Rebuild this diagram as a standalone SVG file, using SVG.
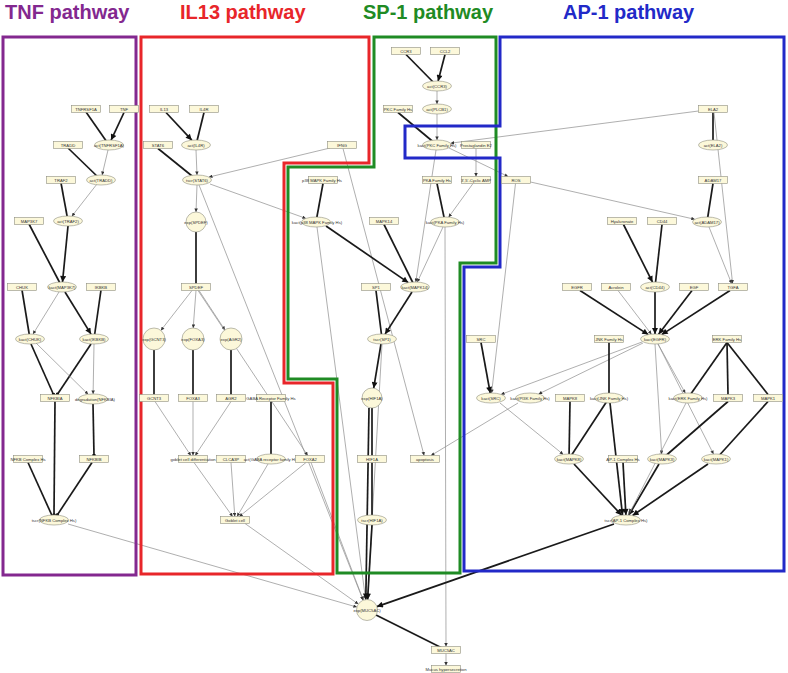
<svg xmlns="http://www.w3.org/2000/svg" width="788" height="673" viewBox="0 0 788 673">
<style>
.r{fill:#FCF8DA;stroke:#8f8f80;stroke-width:0.6}
.e{fill:#FCF8DA;stroke:#8f8f80;stroke-width:0.6}
.t{font-family:"Liberation Sans",Arial,sans-serif;font-size:4.2px;fill:#333;text-anchor:middle}
.k{stroke:#1a1a1a;stroke-width:1.7;fill:none}
.n{stroke:#8c8c8c;stroke-width:0.7;fill:none}
.ka{marker-end:url(#ak)}
.na{marker-end:url(#an)}
.kd{marker-end:url(#dot)}
.ttl{font-family:"Liberation Sans",Arial,sans-serif;font-size:20px;font-weight:bold}
.box{fill:none;stroke-width:3}
</style>
<defs>
<marker id="ak" viewBox="0 0 10 10" refX="10" refY="5" markerWidth="7" markerHeight="6" markerUnits="userSpaceOnUse" orient="auto"><path d="M0,0L10,5L0,10z" fill="#111"/></marker>
<marker id="an" viewBox="0 0 10 10" refX="10" refY="5" markerWidth="4" markerHeight="3.5" markerUnits="userSpaceOnUse" orient="auto"><path d="M0,0L10,5L0,10z" fill="#333"/></marker>
<marker id="dot" viewBox="0 0 10 10" refX="5" refY="5" markerWidth="3.6" markerHeight="3.6" markerUnits="userSpaceOnUse" orient="auto"><circle cx="5" cy="5" r="5" fill="#111"/></marker>
</defs>
<rect width="788" height="673" fill="#fff"/>
<g id="titles">
<text class="ttl" x="5" y="19" fill="#83288F">TNF pathway</text>
<text class="ttl" x="180" y="19" fill="#E8262A">IL13 pathway</text>
<text class="ttl" x="363" y="19" fill="#1F8B24">SP-1 pathway</text>
<text class="ttl" x="563" y="19" fill="#2229C8">AP-1 pathway</text>
</g>
<g id="connectors">
<!-- TNF -->
<line class="k" x1="86" y1="112" x2="109" y2="145"/>
<line class="k ka" x1="124" y1="112.5" x2="111.1" y2="140.1"/>
<line class="n na" x1="108" y1="150" x2="102.1" y2="175"/>
<line class="k" x1="68" y1="148" x2="101" y2="180"/>
<line class="n na" x1="97" y1="184" x2="71.9" y2="216.2"/>
<line class="k" x1="61" y1="183" x2="68" y2="221"/>
<line class="k ka" x1="68" y1="226" x2="62.5" y2="282"/>
<line class="k" x1="29" y1="224" x2="62" y2="287"/>
<line class="n na" x1="59" y1="292" x2="33" y2="334.1"/>
<line class="k ka" x1="65" y1="292" x2="91" y2="334.1"/>
<line class="k" x1="22" y1="290" x2="30" y2="339"/>
<line class="k" x1="101" y1="290" x2="94" y2="339"/>
<line class="k kd" x1="31" y1="344" x2="53.5" y2="394.5"/>
<line class="k kd" x1="91" y1="344" x2="57.3" y2="394.5"/>
<line class="n na" x1="36" y1="343" x2="88.1" y2="394.3"/>
<line class="n na" x1="94" y1="344" x2="93.1" y2="394"/>
<line class="k kd" x1="55" y1="401.5" x2="54" y2="515"/>
<line class="k kd" x1="93" y1="404" x2="94" y2="455.5"/>
<line class="k" x1="28" y1="462.5" x2="54" y2="520"/>
<line class="k kd" x1="92" y1="462.5" x2="57.2" y2="515.1"/>
<line class="n na" x1="68" y1="524" x2="356.9" y2="607.1"/>
<!-- IL13 -->
<line class="k ka" x1="166" y1="112.5" x2="191.8" y2="140.2"/>
<line class="k" x1="204" y1="112.5" x2="196" y2="145"/>
<line class="n na" x1="196" y1="150" x2="197" y2="175"/>
<line class="k" x1="158" y1="148.5" x2="197" y2="180"/>
<line class="n na" x1="330" y1="148" x2="208.9" y2="177.1"/>
<line class="n na" x1="343" y1="148.5" x2="424.1" y2="455.5"/>
<line class="n na" x1="197" y1="185" x2="196" y2="212"/>
<line class="n na" x1="210" y1="184" x2="305.9" y2="218.4"/>
<line class="n na" x1="199" y1="185" x2="363.1" y2="600.2"/>
<line class="k" x1="196" y1="232" x2="196" y2="283.5"/>
<line class="n na" x1="192" y1="290.5" x2="160.9" y2="330.4"/>
<line class="n na" x1="196" y1="290.5" x2="193.2" y2="328"/>
<line class="n na" x1="199" y1="290.5" x2="224.9" y2="329.9"/>
<line class="n na" x1="198" y1="290.5" x2="307.7" y2="455.5"/>
<line class="k" x1="154" y1="350" x2="154" y2="394.5"/>
<line class="k" x1="193" y1="350" x2="193" y2="394.5"/>
<line class="k" x1="231" y1="350" x2="231" y2="394.5"/>
<line class="n na" x1="155" y1="401.5" x2="190.8" y2="455.5"/>
<line class="n na" x1="193" y1="401.5" x2="193" y2="455.5"/>
<line class="n na" x1="231" y1="401.5" x2="195.2" y2="455.5"/>
<line class="k" x1="271" y1="401.5" x2="271" y2="454"/>
<line class="n na" x1="194" y1="462.5" x2="232.6" y2="516.5"/>
<line class="n na" x1="231" y1="462.5" x2="234.8" y2="516.5"/>
<line class="n na" x1="268" y1="464" x2="237.1" y2="516.5"/>
<line class="n na" x1="306" y1="462.5" x2="239.3" y2="516.5"/>
<line class="n na" x1="245" y1="523.5" x2="358.3" y2="604.1"/>
<line class="n na" x1="311" y1="462.5" x2="363.3" y2="600.2"/>
<!-- SP-1 -->
<line class="k" x1="406" y1="54.5" x2="437" y2="86"/>
<line class="k ka" x1="445" y1="54.5" x2="438.1" y2="81"/>
<line class="n na" x1="437" y1="91" x2="437" y2="104"/>
<line class="n na" x1="437" y1="114" x2="437" y2="140"/>
<line class="k" x1="398" y1="112.5" x2="437" y2="145"/>
<line class="n na" x1="698.5" y1="111" x2="450.6" y2="143.2"/>
<line class="n na" x1="476" y1="148.5" x2="476" y2="176.5"/>
<line class="n na" x1="473" y1="183.5" x2="448.6" y2="217.2"/>
<line class="k" x1="437" y1="183.5" x2="445" y2="222"/>
<line class="n na" x1="449" y1="148" x2="508.1" y2="176.5"/>
<line class="n na" x1="436" y1="150" x2="415.8" y2="282"/>
<line class="n na" x1="443" y1="227" x2="417.3" y2="282.1"/>
<line class="n na" x1="445" y1="227" x2="446" y2="646.5"/>
<line class="k" x1="323" y1="183.5" x2="316" y2="222"/>
<line class="k ka" x1="326" y1="226" x2="408.3" y2="282.6"/>
<line class="k" x1="384" y1="224.5" x2="415" y2="287"/>
<line class="n na" x1="317" y1="227" x2="365.6" y2="599.6"/>
<line class="k ka" x1="412" y1="292" x2="385.1" y2="334.1"/>
<line class="k" x1="376" y1="290.5" x2="382" y2="339"/>
<line class="k ka" x1="381" y1="344" x2="373.7" y2="388.1"/>
<line class="n na" x1="382" y1="344" x2="367.6" y2="599.5"/>
<line class="k" x1="372" y1="408" x2="372" y2="455.5"/>
<line class="k" x1="372" y1="462.5" x2="372" y2="515"/>
<line class="k ka" x1="372" y1="525" x2="367.6" y2="599.5"/>
<line class="k ka" x1="369" y1="408" x2="365.8" y2="599.6"/>
<line class="n na" x1="518" y1="403" x2="431" y2="455.5"/>
<line class="k" x1="376" y1="615" x2="446" y2="650"/>
<line class="n na" x1="446" y1="653.5" x2="446" y2="665.5"/>
<line class="n na" x1="515.5" y1="183.5" x2="491.6" y2="393"/>
<line class="n na" x1="530.5" y1="182" x2="694.8" y2="219.3"/>
<!-- AP-1 -->
<line class="k" x1="713" y1="112.5" x2="713" y2="140"/>
<line class="n na" x1="714" y1="112.5" x2="732.6" y2="283.5"/>
<line class="k" x1="713" y1="183.5" x2="707" y2="222"/>
<line class="n na" x1="709" y1="227" x2="731.6" y2="283.5"/>
<line class="k ka" x1="623.5" y1="224.5" x2="652.5" y2="282.1"/>
<line class="k" x1="662" y1="224.5" x2="655" y2="287"/>
<line class="k ka" x1="580" y1="290.5" x2="648.3" y2="334.6"/>
<line class="n na" x1="618" y1="290.5" x2="651.4" y2="334.2"/>
<line class="k ka" x1="655" y1="292" x2="655" y2="334"/>
<line class="k ka" x1="692" y1="290.5" x2="658.6" y2="334.2"/>
<line class="k ka" x1="730" y1="290.5" x2="661.7" y2="334.6"/>
<line class="k ka" x1="481" y1="342.5" x2="490.2" y2="393"/>
<line class="n na" x1="642" y1="342" x2="501" y2="394.4"/>
<line class="n na" x1="643" y1="343" x2="538.6" y2="394"/>
<line class="n na" x1="658" y1="344" x2="685.3" y2="393.1"/>
<line class="n na" x1="655" y1="344" x2="661.7" y2="454"/>
<line class="n na" x1="658" y1="344" x2="713.5" y2="454.1"/>
<line class="k" x1="609" y1="342.5" x2="609" y2="393"/>
<line class="k" x1="727" y1="342.5" x2="688" y2="398"/>
<line class="k" x1="727" y1="342.5" x2="728" y2="394.5"/>
<line class="k" x1="727" y1="342.5" x2="768" y2="394.5"/>
<line class="k" x1="609" y1="398" x2="569" y2="459"/>
<line class="k" x1="570" y1="401.5" x2="569" y2="459"/>
<line class="n na" x1="500" y1="403" x2="563.2" y2="454.4"/>
<line class="k ka" x1="610" y1="403" x2="622.5" y2="515"/>
<line class="k ka" x1="623" y1="462.5" x2="625.9" y2="515"/>
<line class="k ka" x1="574" y1="464" x2="621.6" y2="515.2"/>
<line class="k ka" x1="659" y1="464" x2="628.9" y2="515.1"/>
<line class="k ka" x1="708" y1="464" x2="632.6" y2="515.5"/>
<line class="k" x1="728" y1="401.5" x2="662" y2="459"/>
<line class="k" x1="768" y1="401.5" x2="716" y2="459"/>
<line class="n na" x1="686" y1="403" x2="628.5" y2="515.1"/>
<line class="k ka" x1="614" y1="524" x2="376.9" y2="606.6"/>
</g>
<g id="pathway-boxes">
<rect class="box" x="3" y="37" width="133" height="538" stroke="#83288F"/>
<path class="box" d="M141,37H369V163H284V383H333V574H141Z" stroke="#E8262A"/>
<path class="box" d="M374,37H496V263H460V573H337V379H288V167H374Z" stroke="#1F8B24"/>
<path class="box" d="M500,37H784V571H464V267H500V158H405V126H500Z" stroke="#2229C8"/>
</g>
<g id="n-TNFRSF1A"><rect class="r" x="71.5" y="105.5" width="29" height="7"/><text class="t" x="86" y="110.5">TNFRSF1A</text></g>
<g id="n-TNF"><rect class="r" x="109.5" y="105.5" width="29" height="7"/><text class="t" x="124" y="110.5">TNF</text></g>
<g id="n-actTNFRSF1A"><ellipse class="e" cx="109" cy="145" rx="14.5" ry="5"/><text class="t" x="109" y="146.5">act(TNFRSF1A)</text></g>
<g id="n-TRADD"><rect class="r" x="53.5" y="141.5" width="29" height="7"/><text class="t" x="68" y="146.5">TRADD</text></g>
<g id="n-actTRADD"><ellipse class="e" cx="101" cy="180" rx="14.5" ry="5"/><text class="t" x="101" y="181.5">act(TRADD)</text></g>
<g id="n-TRAF2"><rect class="r" x="46.5" y="176.5" width="29" height="7"/><text class="t" x="61" y="181.5">TRAF2</text></g>
<g id="n-actTRAF2"><ellipse class="e" cx="68" cy="221" rx="14.5" ry="5"/><text class="t" x="68" y="222.5">act(TRAF2)</text></g>
<g id="n-MAP3K7"><rect class="r" x="14.5" y="217.5" width="29" height="7"/><text class="t" x="29" y="222.5">MAP3K7</text></g>
<g id="n-kactMAP3K7"><ellipse class="e" cx="62" cy="287" rx="14.5" ry="5"/><text class="t" x="62" y="288.5">kact(MAP3K7)</text></g>
<g id="n-CHUK"><rect class="r" x="7.5" y="283.5" width="29" height="7"/><text class="t" x="22" y="288.5">CHUK</text></g>
<g id="n-IKBKB"><rect class="r" x="86.5" y="283.5" width="29" height="7"/><text class="t" x="101" y="288.5">IKBKB</text></g>
<g id="n-kactCHUK"><ellipse class="e" cx="30" cy="339" rx="14.5" ry="5"/><text class="t" x="30" y="340.5">kact(CHUK)</text></g>
<g id="n-kactIKBKB"><ellipse class="e" cx="94" cy="339" rx="14.5" ry="5"/><text class="t" x="94" y="340.5">kact(IKBKB)</text></g>
<g id="n-NFKBIA"><rect class="r" x="40.5" y="394.5" width="29" height="7"/><text class="t" x="55" y="399.5">NFKBIA</text></g>
<g id="n-degNFKBIA"><ellipse class="e" cx="93" cy="399" rx="14.5" ry="5"/><text class="t" x="95" y="400.5">degradation(NFKBIA)</text></g>
<g id="n-NFKBComplex"><rect class="r" x="13.5" y="455.5" width="29" height="7"/><text class="t" x="28" y="460.5">NFKB Complex Hs</text></g>
<g id="n-NFKBIB"><rect class="r" x="79.5" y="455.5" width="29" height="7"/><text class="t" x="94" y="460.5">NFKBIB</text></g>
<g id="n-tscrNFKB"><ellipse class="e" cx="54" cy="520" rx="14.5" ry="5"/><text class="t" x="54" y="521.5">tscr(NFKB Complex Hs)</text></g>
<g id="n-IL13"><rect class="r" x="149.5" y="105.5" width="29" height="7"/><text class="t" x="164" y="110.5">IL13</text></g>
<g id="n-IL4R"><rect class="r" x="189.5" y="105.5" width="29" height="7"/><text class="t" x="204" y="110.5">IL4R</text></g>
<g id="n-actIL4R"><ellipse class="e" cx="196" cy="145" rx="14.5" ry="5"/><text class="t" x="196" y="146.5">act(IL4R)</text></g>
<g id="n-STAT6"><rect class="r" x="143.5" y="141.5" width="29" height="7"/><text class="t" x="158" y="146.5">STAT6</text></g>
<g id="n-tscrSTAT6"><ellipse class="e" cx="197" cy="180" rx="14.5" ry="5"/><text class="t" x="197" y="181.5">tscr(STAT6)</text></g>
<g id="n-IFNG"><rect class="r" x="327.5" y="141.5" width="29" height="7"/><text class="t" x="342" y="146.5">IFNG</text></g>
<g id="n-expSPDEF"><circle class="e" cx="196" cy="222" r="10"/><text class="t" x="196" y="223.5">exp(SPDEF)</text></g>
<g id="n-SPDEF"><rect class="r" x="181.5" y="283.5" width="29" height="7"/><text class="t" x="196" y="288.5">SPDEF</text></g>
<g id="n-expGCNT3"><circle class="e" cx="154" cy="339" r="11"/><text class="t" x="154" y="340.5">exp(GCNT3)</text></g>
<g id="n-expFOXA3"><circle class="e" cx="193" cy="339" r="11"/><text class="t" x="193" y="340.5">exp(FOXA3)</text></g>
<g id="n-expAGR2"><circle class="e" cx="231" cy="339" r="11"/><text class="t" x="231" y="340.5">exp(AGR2)</text></g>
<g id="n-GCNT3"><rect class="r" x="139.5" y="394.5" width="29" height="7"/><text class="t" x="154" y="399.5">GCNT3</text></g>
<g id="n-FOXA3"><rect class="r" x="178.5" y="394.5" width="29" height="7"/><text class="t" x="193" y="399.5">FOXA3</text></g>
<g id="n-AGR2"><rect class="r" x="216.5" y="394.5" width="29" height="7"/><text class="t" x="231" y="399.5">AGR2</text></g>
<g id="n-GABA"><rect class="r" x="256.5" y="394.5" width="29" height="7"/><text class="t" x="271" y="399.5">GABA Receptor Family Hs</text></g>
<g id="n-gcd"><rect class="r" x="178.5" y="455.5" width="29" height="7"/><text class="t" x="193" y="460.5">goblet cell differentiation</text></g>
<g id="n-CLCA3P"><rect class="r" x="216.5" y="455.5" width="29" height="7"/><text class="t" x="231" y="460.5">CLCA3P</text></g>
<g id="n-actGABA"><ellipse class="e" cx="271" cy="459" rx="14.5" ry="5"/><text class="t" x="271" y="460.5">act(GABA receptor family Hs)</text></g>
<g id="n-FOXA2"><rect class="r" x="295.5" y="455.5" width="29" height="7"/><text class="t" x="310" y="460.5">FOXA2</text></g>
<g id="n-goblet"><rect class="r" x="220.5" y="516.5" width="29" height="7"/><text class="t" x="235" y="521.5">Goblet cell</text></g>
<g id="n-CCR3"><rect class="r" x="391.5" y="47.5" width="29" height="7"/><text class="t" x="406" y="52.5">CCR3</text></g>
<g id="n-CCL2"><rect class="r" x="430.5" y="47.5" width="29" height="7"/><text class="t" x="445" y="52.5">CCL2</text></g>
<g id="n-actCCR3"><ellipse class="e" cx="437" cy="86" rx="14.5" ry="5"/><text class="t" x="437" y="87.5">act(CCR3)</text></g>
<g id="n-actPLCB1"><ellipse class="e" cx="437" cy="109" rx="14.5" ry="5"/><text class="t" x="437" y="110.5">act(PLCB1)</text></g>
<g id="n-PKC"><rect class="r" x="383.5" y="105.5" width="29" height="7"/><text class="t" x="398" y="110.5">PKC Family Hs</text></g>
<g id="n-kactPKC"><ellipse class="e" cx="437" cy="145" rx="14.5" ry="5"/><text class="t" x="437" y="146.5">kact(PKC Family Hs)</text></g>
<g id="n-PGE2"><rect class="r" x="461.5" y="141.5" width="29" height="7"/><text class="t" x="476" y="146.5">Prostaglandin E2</text></g>
<g id="n-p38"><rect class="r" x="308.5" y="176.5" width="29" height="7"/><text class="t" x="322" y="181.5">p38 MAPK Family Hs</text></g>
<g id="n-kactp38"><ellipse class="e" cx="316" cy="222" rx="14.5" ry="5"/><text class="t" x="317" y="223.5">kact(p38 MAPK Family Hs)</text></g>
<g id="n-PKA"><rect class="r" x="422.5" y="176.5" width="29" height="7"/><text class="t" x="437" y="181.5">PKA Family Hs</text></g>
<g id="n-cAMP"><rect class="r" x="461.5" y="176.5" width="29" height="7"/><text class="t" x="476" y="181.5">3',5'-Cyclic AMP</text></g>
<g id="n-kactPKA"><ellipse class="e" cx="445" cy="222" rx="14.5" ry="5"/><text class="t" x="445" y="223.5">kact(PKA Family Hs)</text></g>
<g id="n-MAPK14"><rect class="r" x="369.5" y="217.5" width="29" height="7"/><text class="t" x="384" y="222.5">MAPK14</text></g>
<g id="n-kactMAPK14"><ellipse class="e" cx="415" cy="287" rx="14.5" ry="5"/><text class="t" x="415" y="288.5">kact(MAPK14)</text></g>
<g id="n-SP1"><rect class="r" x="361.5" y="283.5" width="29" height="7"/><text class="t" x="376" y="288.5">SP1</text></g>
<g id="n-tscrSP1"><ellipse class="e" cx="382" cy="339" rx="14.5" ry="5"/><text class="t" x="382" y="340.5">tscr(SP1)</text></g>
<g id="n-expHIF1A"><circle class="e" cx="372" cy="398" r="10"/><text class="t" x="372" y="399.5">exp(HIF1A)</text></g>
<g id="n-HIF1A"><rect class="r" x="357.5" y="455.5" width="29" height="7"/><text class="t" x="372" y="460.5">HIF1A</text></g>
<g id="n-tscrHIF1A"><ellipse class="e" cx="372" cy="520" rx="14.5" ry="5"/><text class="t" x="372" y="521.5">tscr(HIF1A)</text></g>
<g id="n-apoptosis"><rect class="r" x="410.5" y="455.5" width="29" height="7"/><text class="t" x="425" y="460.5">apoptosis</text></g>
<g id="n-expMUC5AC"><circle class="e" cx="367" cy="610" r="10.5"/><text class="t" x="367" y="611.5">exp(MUC5AC)</text></g>
<g id="n-MUC5AC"><rect class="r" x="431.5" y="646.5" width="29" height="7"/><text class="t" x="446" y="651.5">MUC5AC</text></g>
<g id="n-mucus"><rect class="r" x="431.5" y="665.5" width="29" height="7"/><text class="t" x="446" y="670.5">Mucus hypersecretion</text></g>
<g id="n-ELA2"><rect class="r" x="698.5" y="105.5" width="29" height="7"/><text class="t" x="713" y="110.5">ELA2</text></g>
<g id="n-actELA2"><ellipse class="e" cx="713" cy="145" rx="14.5" ry="5"/><text class="t" x="713" y="146.5">act(ELA2)</text></g>
<g id="n-ROS"><rect class="r" x="501.5" y="176.5" width="29" height="7"/><text class="t" x="516" y="181.5">ROS</text></g>
<g id="n-ADAM17"><rect class="r" x="698.5" y="176.5" width="29" height="7"/><text class="t" x="713" y="181.5">ADAM17</text></g>
<g id="n-actADAM17"><ellipse class="e" cx="707" cy="222" rx="14.5" ry="5"/><text class="t" x="707" y="223.5">act(ADAM17)</text></g>
<g id="n-Hyaluronate"><rect class="r" x="607.5" y="217.5" width="29" height="7"/><text class="t" x="622" y="222.5">Hyaluronate</text></g>
<g id="n-CD44"><rect class="r" x="647.5" y="217.5" width="29" height="7"/><text class="t" x="662" y="222.5">CD44</text></g>
<g id="n-actCD44"><ellipse class="e" cx="655" cy="287" rx="14.5" ry="5"/><text class="t" x="655" y="288.5">act(CD44)</text></g>
<g id="n-EGFR"><rect class="r" x="562.5" y="283.5" width="29" height="7"/><text class="t" x="577" y="288.5">EGFR</text></g>
<g id="n-Acrolein"><rect class="r" x="601.5" y="283.5" width="29" height="7"/><text class="t" x="616" y="288.5">Acrolein</text></g>
<g id="n-EGF"><rect class="r" x="679.5" y="283.5" width="29" height="7"/><text class="t" x="694" y="288.5">EGF</text></g>
<g id="n-TGFA"><rect class="r" x="718.5" y="283.5" width="29" height="7"/><text class="t" x="733" y="288.5">TGFA</text></g>
<g id="n-kactEGFR"><ellipse class="e" cx="655" cy="339" rx="14.5" ry="5"/><text class="t" x="655" y="340.5">kact(EGFR)</text></g>
<g id="n-SRC"><rect class="r" x="466.5" y="335.5" width="29" height="7"/><text class="t" x="481" y="340.5">SRC</text></g>
<g id="n-JNK"><rect class="r" x="594.5" y="335.5" width="29" height="7"/><text class="t" x="609" y="340.5">JNK Family Hs</text></g>
<g id="n-ERK"><rect class="r" x="712.5" y="335.5" width="29" height="7"/><text class="t" x="727" y="340.5">ERK Family Hs</text></g>
<g id="n-kactSRC"><ellipse class="e" cx="491" cy="398" rx="14.5" ry="5"/><text class="t" x="491" y="399.5">kact(SRC)</text></g>
<g id="n-kactPI3K"><ellipse class="e" cx="530" cy="398" rx="14.5" ry="5"/><text class="t" x="530" y="399.5">kact(PI3K Family Hs)</text></g>
<g id="n-MAPK8"><rect class="r" x="555.5" y="394.5" width="29" height="7"/><text class="t" x="570" y="399.5">MAPK8</text></g>
<g id="n-kactJNK"><ellipse class="e" cx="609" cy="398" rx="14.5" ry="5"/><text class="t" x="609" y="399.5">kact(JNK Family Hs)</text></g>
<g id="n-kactERK"><ellipse class="e" cx="688" cy="398" rx="14.5" ry="5"/><text class="t" x="688" y="399.5">kact(ERK Family Hs)</text></g>
<g id="n-MAPK3"><rect class="r" x="713.5" y="394.5" width="29" height="7"/><text class="t" x="728" y="399.5">MAPK3</text></g>
<g id="n-MAPK1"><rect class="r" x="753.5" y="394.5" width="29" height="7"/><text class="t" x="768" y="399.5">MAPK1</text></g>
<g id="n-kactMAPK8"><ellipse class="e" cx="569" cy="459" rx="14.5" ry="5"/><text class="t" x="569" y="460.5">kact(MAPK8)</text></g>
<g id="n-AP1"><rect class="r" x="608.5" y="455.5" width="29" height="7"/><text class="t" x="623" y="460.5">AP-1 Complex Hs</text></g>
<g id="n-kactMAPK3"><ellipse class="e" cx="662" cy="459" rx="14.5" ry="5"/><text class="t" x="662" y="460.5">kact(MAPK3)</text></g>
<g id="n-kactMAPK1"><ellipse class="e" cx="716" cy="459" rx="14.5" ry="5"/><text class="t" x="716" y="460.5">kact(MAPK1)</text></g>
<g id="n-tscrAP1"><ellipse class="e" cx="626" cy="520" rx="14.5" ry="5"/><text class="t" x="626" y="521.5">tscr(AP-1 Complex Hs)</text></g>
</svg>
